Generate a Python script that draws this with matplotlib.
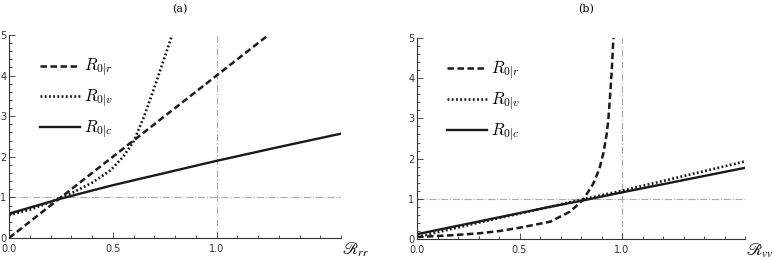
import matplotlib
matplotlib.use("Agg")
import matplotlib.pyplot as plt
from matplotlib.ticker import MultipleLocator

plt.rcParams['mathtext.fontset'] = 'cm'

# ---- Data panel (a): x = R_rr ----
a_r_x = [0.0, 0.25, 0.5, 1.0, 1.25]
a_r_y = [0.0, 1.0, 2.0, 4.0, 5.0]
a_v_x = [0.0, 0.1, 0.2, 0.25, 0.3, 0.4, 0.49, 0.55, 0.6, 0.65, 0.7, 0.75, 0.786]
a_v_y = [0.56, 0.7, 0.88, 1.0, 1.1, 1.36, 1.67, 2.0, 2.37, 2.98, 3.7, 4.45, 5.0]
a_c_x = [0.0, 0.25, 0.5, 0.75, 1.0, 1.3, 1.6]
a_c_y = [0.6, 0.97, 1.3, 1.6, 1.9, 2.24, 2.57]

# ---- Data panel (b): x = R_vv ----
b_r_x = [0.0, 0.16, 0.3, 0.405, 0.5, 0.65, 0.746, 0.81, 0.86, 0.89, 0.909, 0.925, 0.933, 0.941, 0.95, 0.958]
b_r_y = [0.05, 0.09, 0.14, 0.2, 0.28, 0.43, 0.68, 0.97, 1.38, 1.75, 2.13, 2.6, 2.95, 3.5, 4.19, 5.0]
b_v_x = [0.0, 0.32, 0.649, 0.82, 1.0, 1.6]
b_v_y = [0.05, 0.43, 0.80, 1.0, 1.2, 1.93]
b_c_x = [0.0, 0.649, 0.82, 1.0, 1.6]
b_c_y = [0.12, 0.8, 0.97, 1.16, 1.77]

labels = [r'$R_{0|r}$', r'$R_{0|v}$', r'$R_{0|c}$']
xticks = [0.0, 0.5, 1.0]
yticks = [0, 1, 2, 3, 4, 5]

fig = plt.figure(figsize=(7.81, 2.6), dpi=100)
ax1 = fig.add_axes([9/781, 22/260, 332/781, 203/260])
ax2 = fig.add_axes([417/781, 21/260, 328/781, 201/260])

col = '#1a1a1a'
dash = (0, (2.6, 1.4))
dot = (0, (0.7, 0.9))

def style(ax, xlab):
    ax.set_xlim(0, 1.6)
    ax.set_ylim(0, 5)
    for s in ['top', 'right']:
        ax.spines[s].set_visible(False)
    for s in ['left', 'bottom']:
        ax.spines[s].set_linewidth(0.8)
        ax.spines[s].set_color('#333333')
    ax.set_xticks(xticks)
    ax.set_xticklabels([f'{t:.1f}' for t in xticks])
    ax.set_yticks(yticks)
    ax.set_yticklabels([str(t) for t in yticks])
    ax.xaxis.set_minor_locator(MultipleLocator(0.1))
    ax.yaxis.set_minor_locator(MultipleLocator(0.2))
    ax.tick_params(which='both', direction='in', labelsize=7, colors='#333333', width=0.6)
    ax.tick_params(which='major', length=4)
    ax.tick_params(which='minor', length=2.5)
    ax.tick_params(axis='y', pad=2)
    ax.tick_params(axis='x', pad=4.5)
    ax.axhline(1.0, xmin=0, xmax=1, color='#aaaaaa', lw=0.8, ls='-.', zorder=1)
    ax.axvline(1.0, ymin=0, ymax=1, color='#aaaaaa', lw=0.8, ls=(0, (6, 2, 1, 2)), zorder=1)
    t = ax.annotate(xlab, xy=(1, 0), xycoords='axes fraction', xytext=(1, -2),
                    textcoords='offset points', ha='left', va='top', fontsize=12)
    t.set_math_fontfamily('stix')

# panel (a)
ax1.plot(a_r_x, a_r_y, color=col, lw=1.8, ls=dash, label=labels[0])
ax1.plot(a_v_x, a_v_y, color=col, lw=1.9, ls=dot, label=labels[1])
ax1.plot(a_c_x, a_c_y, color=col, lw=1.7, ls='-', label=labels[2])
style(ax1, r'$\mathscr{R}_{rr}$')

# panel (b)
ax2.plot(b_r_x, b_r_y, color=col, lw=1.8, ls=dash, label=labels[0])
ax2.plot(b_v_x, b_v_y, color=col, lw=1.9, ls=dot, label=labels[1])
ax2.plot(b_c_x, b_c_y, color=col, lw=1.7, ls='-', label=labels[2])
style(ax2, r'$\mathscr{R}_{vv}$')

for ax, bx in [(ax1, (40 - 9) / 332), (ax2, (447 - 417) / 328)]:
    ax.legend(loc='upper left', bbox_to_anchor=(bx, 0.89), frameon=False,
              fontsize=12, handlelength=2.4, handletextpad=0.25,
              labelspacing=0.52, borderpad=0, borderaxespad=0)

fig.text(180/781, 1 - 9/260, '(a)', ha='center', va='center', fontsize=8, family='DejaVu Serif')
fig.text(586/781, 1 - 9/260, '(b)', ha='center', va='center', fontsize=8, family='DejaVu Serif')

fig.savefig('out.png', dpi=100)
